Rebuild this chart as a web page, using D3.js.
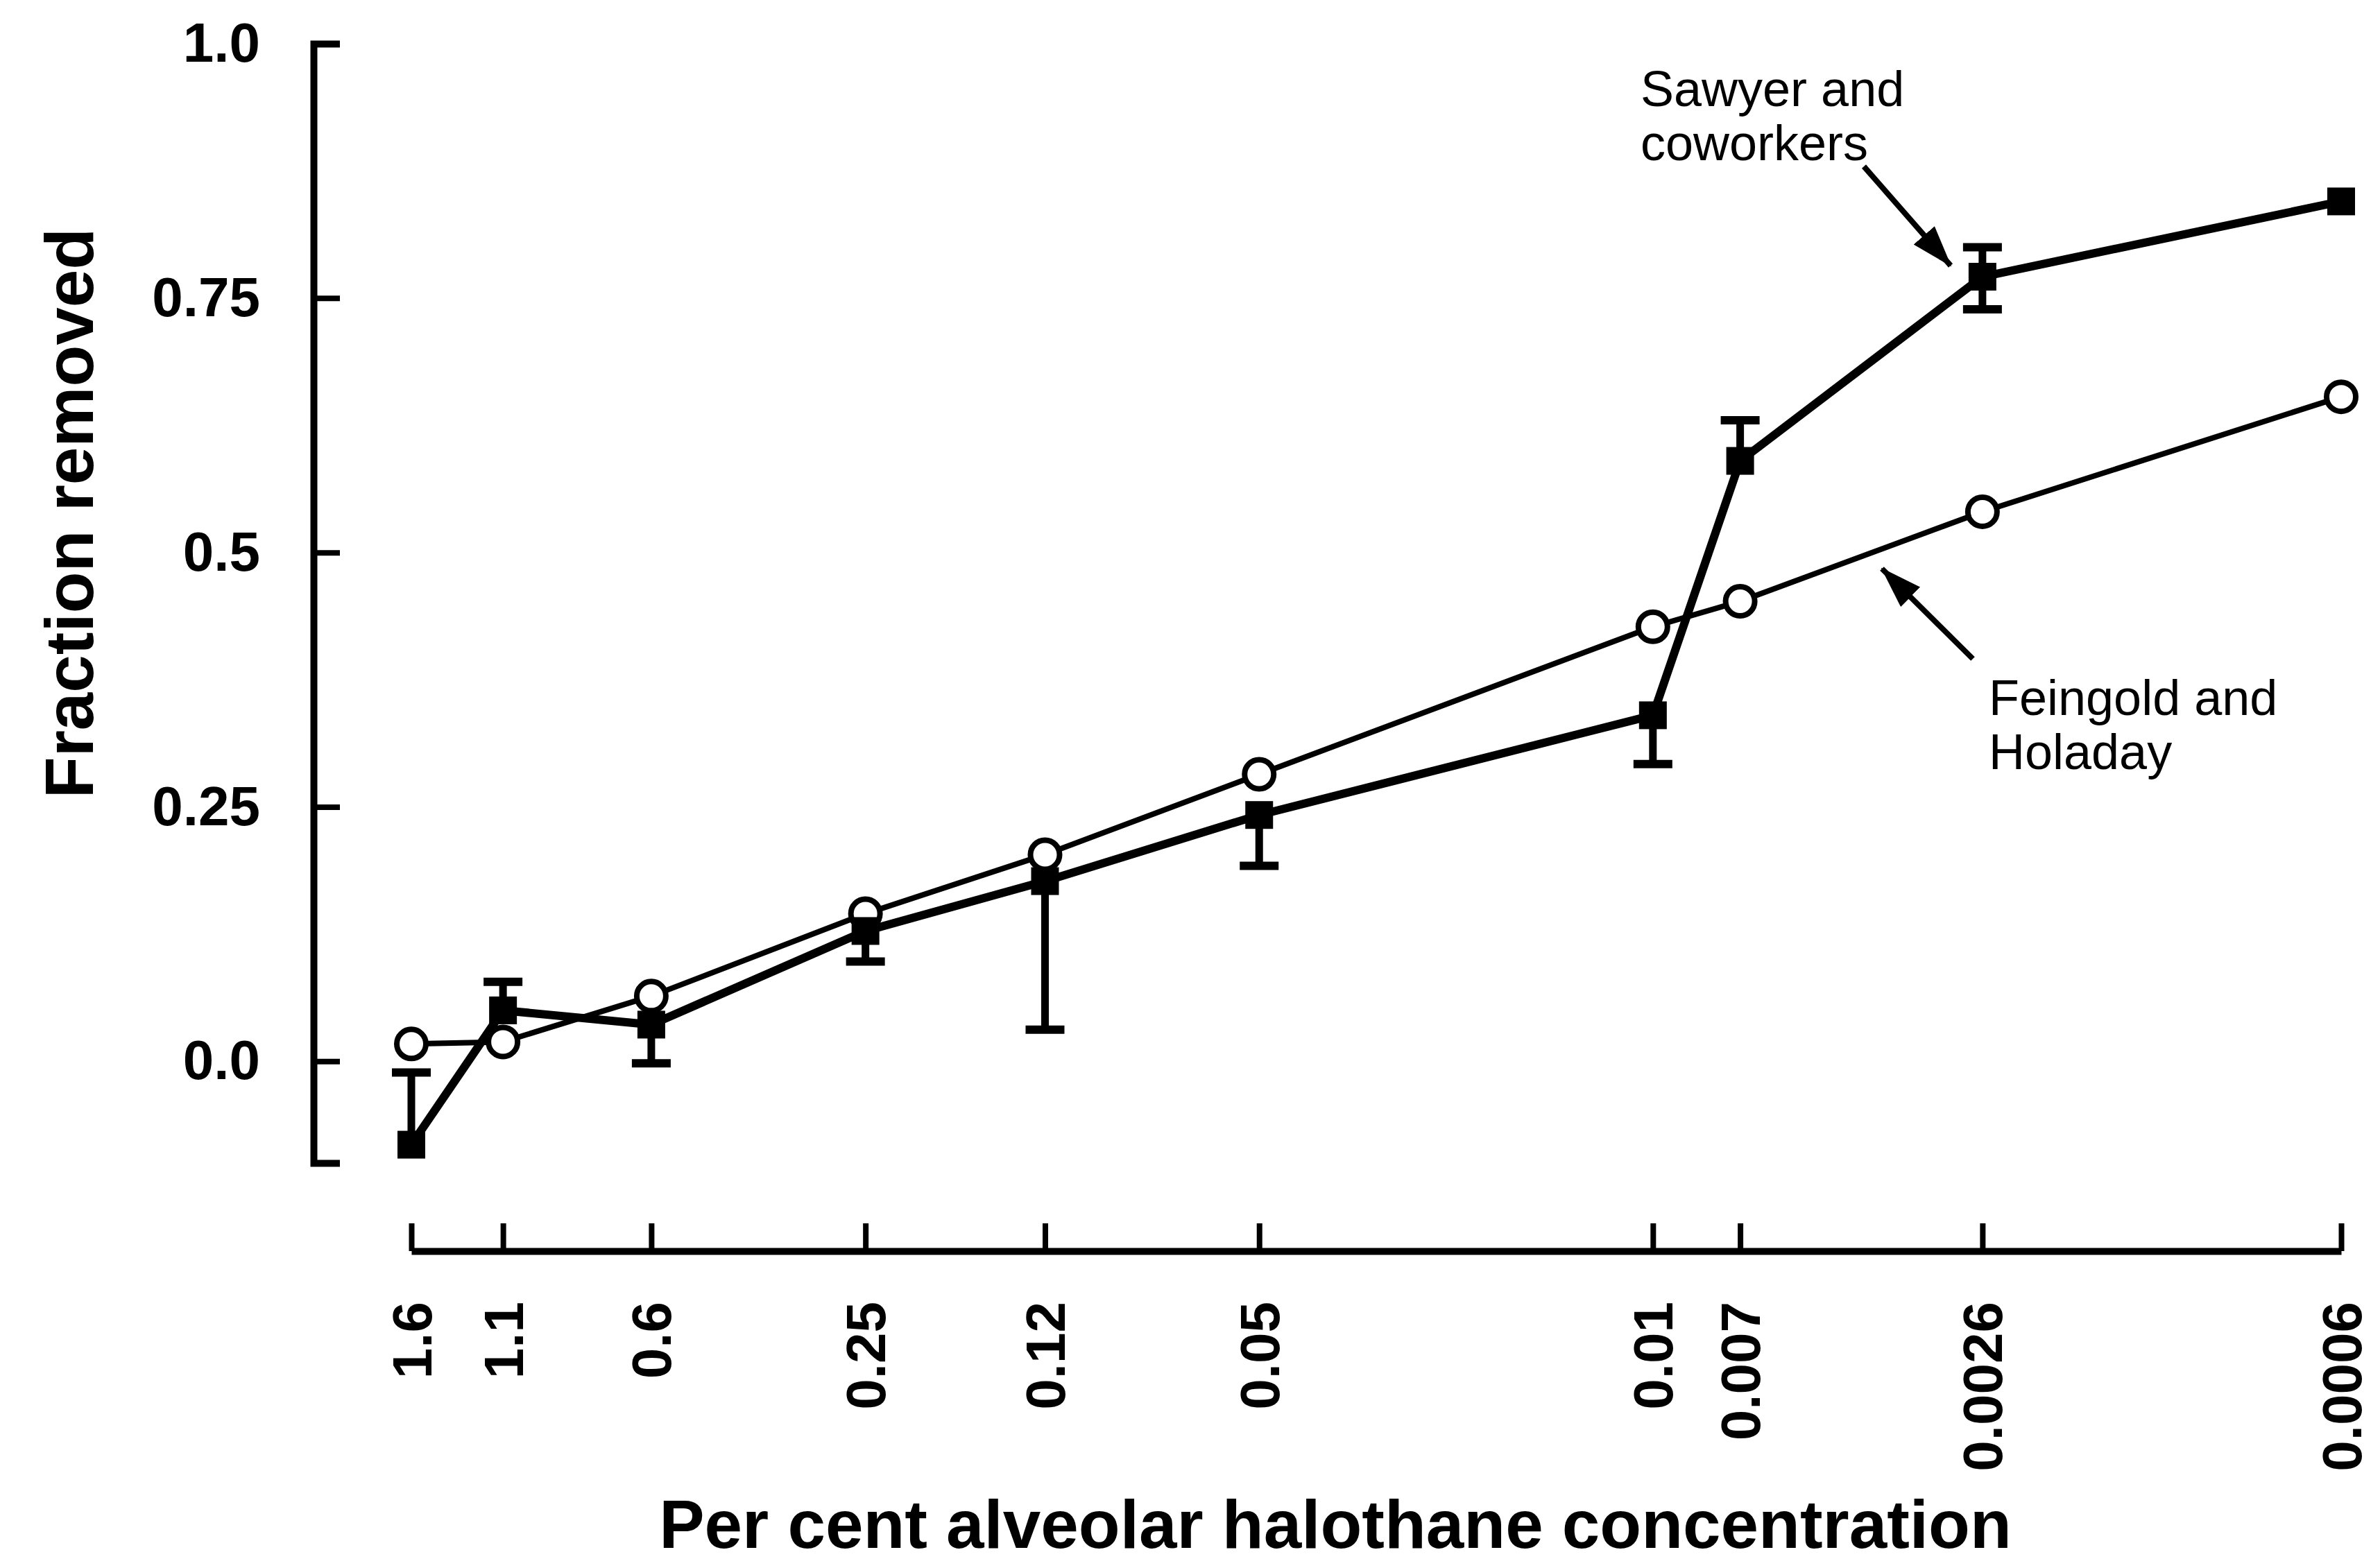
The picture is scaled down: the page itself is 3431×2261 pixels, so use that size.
<!DOCTYPE html>
<meta charset="utf-8">

<style>

body {
  margin: 0;
  background: #fff;
}

svg {
  display: block;
  font-family: 'Liberation Sans', Arial, sans-serif;
}

.axis path,
.axis line {
  stroke: #000;
  fill: none;
}

.axis path {
  stroke-width: 10;
}

.axis line {
  stroke-width: 8;
}

.axis text {
  font-size: 80px;
  font-weight: bold;
  fill: #000;
}

.title {
  font-size: 98px;
  font-weight: bold;
  fill: #000;
}

.note {
  font-size: 72px;
  fill: #000;
}

</style>
<body>
  <div id="chart-container"></div>
  <script src="https://d3js.org/d3.v7.min.js"></script>

  <script>

  // per cent alveolar halothane concentration (x, log spaced)
  var concentrations = [1.6, 1.1, 0.6, 0.25, 0.12, 0.05, 0.01, 0.007, 0.0026, 0.0006];
  var xTickLabels = ["1.6", "1.1", "0.6", "0.25", "0.12", "0.05", "0.01", "0.007", "0.0026", "0.0006"];

  // Sawyer and coworkers (filled squares) + visible error bar ends
  var sawyer     = [-0.082, 0.050, 0.036, 0.128, 0.177, 0.242, 0.340, 0.590, 0.771, 0.845];
  var sawyerLow  = [null, null, -0.002, 0.098, 0.031, 0.192, 0.292, null, 0.739, null];
  var sawyerHigh = [-0.011, 0.078, null, null, null, null, null, 0.630, 0.800, null];

  // Feingold and Holaday (open circles)
  var feingold = [0.017, 0.019, 0.064, 0.145, 0.203, 0.282, 0.427, 0.452, 0.540, 0.653];

  var yTicks = [0, 0.25, 0.5, 0.75, 1.0];
  var yTickLabels = ["0.0", "0.25", "0.5", "0.75", "1.0"];


  var width = 3431,
      height = 2261;

  var svg = d3.select("#chart-container")
    .append("svg")
      .attr("width", width)
      .attr("height", height);

  var x = d3.scaleLog()
    .domain([1.6, 0.0006])
    .range([593, 3375]);

  var y = d3.scaleLinear()
    .domain([-0.1, 1.0])
    .range([1677, 63]);

  // axes
  var xAxis = d3.axisBottom(x)
    .tickValues(concentrations)
    .tickFormat(function(d, i) { return xTickLabels[i]; })
    .tickSizeInner(-40)
    .tickSizeOuter(0);

  svg.append("g")
    .attr("class", "axis x-axis")
    .attr("transform", "translate(0,1804)")
    .call(xAxis)
    .selectAll("text")
      .attr("transform", "rotate(-90)")
      .attr("x", -73)
      .attr("y", 0)
      .attr("dy", "0.35em")
      .style("text-anchor", "end");

  var yAxis = d3.axisLeft(y)
    .tickValues(yTicks)
    .tickFormat(function(d, i) { return yTickLabels[i]; })
    .tickSizeInner(-38)
    .tickSizeOuter(-38)
    .tickPadding(77);

  svg.append("g")
    .attr("class", "axis y-axis")
    .attr("transform", "translate(452,0)")
    .call(yAxis);

  // axis titles
  svg.append("text")
    .attr("class", "title")
    .attr("transform", "translate(134,740) rotate(-90)")
    .style("text-anchor", "middle")
    .text("Fraction removed");

  svg.append("text")
    .attr("class", "title")
    .attr("x", 1925)
    .attr("y", 2232)
    .style("text-anchor", "middle")
    .text("Per cent alveolar halothane concentration");

  var fData = concentrations.map(function(c, i) { return {c: c, v: feingold[i]}; });
  var sData = concentrations.map(function(c, i) {
    return {c: c, v: sawyer[i], lo: sawyerLow[i], hi: sawyerHigh[i]};
  });

  var line = d3.line()
    .x(function(d) { return x(d.c); })
    .y(function(d) { return y(d.v); });

  // Feingold and Holaday
  svg.append("path")
    .datum(fData)
    .attr("d", line)
    .attr("fill", "none")
    .attr("stroke", "#000")
    .attr("stroke-width", 8)
    .attr("stroke-linejoin", "round");

  svg.selectAll(".circ")
    .data(fData)
    .enter().append("circle")
    .attr("class", "circ")
    .attr("cx", function(d) { return x(d.c); })
    .attr("cy", function(d) { return y(d.v); })
    .attr("r", 21)
    .attr("fill", "#fff")
    .attr("stroke", "#000")
    .attr("stroke-width", 8);

  // Sawyer and coworkers
  svg.append("path")
    .datum(sData)
    .attr("d", line)
    .attr("fill", "none")
    .attr("stroke", "#000")
    .attr("stroke-width", 12)
    .attr("stroke-linejoin", "round");

  var bars = [];
  sData.forEach(function(d) {
    if (d.lo !== null) bars.push({c: d.c, v: d.v, e: d.lo});
    if (d.hi !== null) bars.push({c: d.c, v: d.v, e: d.hi});
  });

  svg.selectAll(".err")
    .data(bars)
    .enter().append("line")
    .attr("class", "err")
    .attr("x1", function(d) { return x(d.c); })
    .attr("x2", function(d) { return x(d.c); })
    .attr("y1", function(d) { return y(d.v); })
    .attr("y2", function(d) { return y(d.e); })
    .attr("stroke", "#000")
    .attr("stroke-width", 11);

  svg.selectAll(".cap")
    .data(bars)
    .enter().append("line")
    .attr("class", "cap")
    .attr("x1", function(d) { return x(d.c) - 28; })
    .attr("x2", function(d) { return x(d.c) + 28; })
    .attr("y1", function(d) { return y(d.e); })
    .attr("y2", function(d) { return y(d.e); })
    .attr("stroke", "#000")
    .attr("stroke-width", 12);

  svg.selectAll(".sq")
    .data(sData)
    .enter().append("rect")
    .attr("class", "sq")
    .attr("x", function(d) { return x(d.c) - 20; })
    .attr("y", function(d) { return y(d.v) - 20; })
    .attr("width", 40)
    .attr("height", 40)
    .attr("fill", "#000");

  // annotations
  svg.append("defs").append("marker")
    .attr("id", "head")
    .attr("markerUnits", "userSpaceOnUse")
    .attr("viewBox", "0 0 60 40")
    .attr("refX", 58)
    .attr("refY", 20)
    .attr("markerWidth", 60)
    .attr("markerHeight", 40)
    .attr("orient", "auto")
    .append("path")
      .attr("d", "M0,0L60,20L0,40Z")
      .attr("fill", "#000");

  var notes = [
    {lines: ["Sawyer and", "coworkers"], tx: 2365, ty: 153, from: [2687, 240], to: [2812, 383]},
    {lines: ["Feingold and", "Holaday"], tx: 2867, ty: 1031, from: [2844, 950], to: [2713, 820]}
  ];

  notes.forEach(function(n) {
    var t = svg.append("text")
      .attr("class", "note")
      .attr("x", n.tx)
      .attr("y", n.ty);
    n.lines.forEach(function(s, i) {
      t.append("tspan")
        .attr("x", n.tx)
        .attr("dy", i === 0 ? 0 : 78)
        .text(s);
    });

    svg.append("line")
      .attr("x1", n.from[0])
      .attr("y1", n.from[1])
      .attr("x2", n.to[0])
      .attr("y2", n.to[1])
      .attr("stroke", "#000")
      .attr("stroke-width", 8)
      .attr("marker-end", "url(#head)");
  });

</script>
</body>
